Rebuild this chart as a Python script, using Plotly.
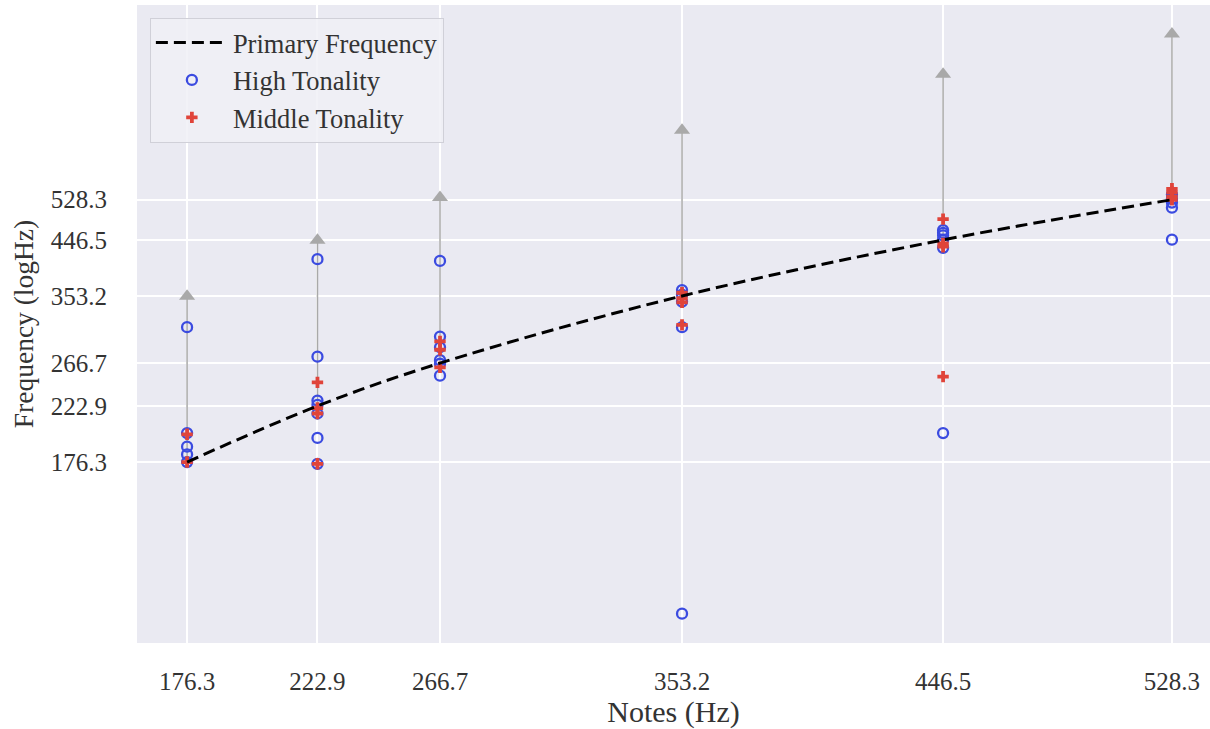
import plotly.graph_objects as go
import numpy as np

# ---------------- data ----------------
notes = [176.3, 222.9, 266.7, 353.2, 446.5, 528.3]
note_labels = ["176.3", "222.9", "266.7", "353.2", "446.5", "528.3"]

high_tonality = [
    [310, 199, 188, 182, 176.3],
    [412, 274, 228, 224, 216, 195, 175],
    [409, 298, 285, 270, 266, 253],
    [362, 355, 345, 310, 93.5],
    [465, 460, 455, 447, 432, 199],
    [540, 530, 522, 511, 447],
]
middle_tonality = [
    [198, 176.3],
    [246, 221, 216, 175],
    [292, 282, 262],
    [358, 350, 344, 313],
    [487, 440, 434, 252],
    [553, 545, 535, 528],
]
octave_factor = 2.0

# ---------------- styling ----------------
FONT = "Liberation Serif"
TXT = "#333333"
BLUE = "#3b4be0"
RED = "#e0443a"
GRAY = "#a9a9a9"
BG = "#EAEAF2"

fig = go.Figure()

# octave arrows (line + triangle head)
for f in notes:
    fig.add_trace(go.Scatter(
        x=[f, f], y=[f, f * octave_factor], mode="lines",
        line=dict(color=GRAY, width=1.5), showlegend=False, hoverinfo="skip"))
fig.add_trace(go.Scatter(
    x=notes, y=[f * octave_factor for f in notes], mode="markers",
    marker=dict(symbol="triangle-up", size=14, color=GRAY, line=dict(width=0)),
    showlegend=False, hoverinfo="skip"))

hx = [n for n, vals in zip(notes, high_tonality) for _ in vals]
hy = [v for vals in high_tonality for v in vals]
mx = [n for n, vals in zip(notes, middle_tonality) for _ in vals]
my = [v for vals in middle_tonality for v in vals]

fig.add_trace(go.Scatter(
    x=hx, y=hy, mode="markers", name="High Tonality", legendrank=2,
    marker=dict(symbol="circle-open", size=10, color=BLUE, line=dict(width=2.3, color=BLUE))))
fig.add_trace(go.Scatter(
    x=mx, y=my, mode="markers", name="Middle Tonality", legendrank=3,
    marker=dict(symbol="cross", size=9.5, color=RED, line=dict(width=0))))
fig.add_trace(go.Scatter(
    x=notes, y=notes, mode="lines", name="Primary Frequency", legendrank=1,
    line=dict(color="black", width=3, dash="12px,6px", shape="spline")))

fig.update_layout(
    width=1210, height=729,
    margin=dict(l=137, r=0, t=5, b=86),
    paper_bgcolor="white", plot_bgcolor=BG,
    font=dict(family=FONT, color=TXT, size=25),
    legend=dict(
        x=0.012, y=0.98, xanchor="left", yanchor="top",
        bgcolor="rgba(240,240,246,0.85)", bordercolor="#d0d0d8", borderwidth=1,
        font=dict(family=FONT, size=26.5, color=TXT), traceorder="normal",
        itemwidth=72),
    showlegend=True,
)
fig.update_xaxes(
    type="linear", range=[158.4, 541.9],
    tickvals=notes, ticktext=note_labels,
    showgrid=True, gridcolor="white", gridwidth=1.5, zeroline=False,
    ticks="", ticklabelstandoff=21, showline=False,
    title=dict(text="Notes (Hz)", font=dict(family=FONT, size=30, color=TXT), standoff=4),
)
fig.update_yaxes(
    type="log", range=[np.log10(82.7), np.log10(1193)],
    tickvals=notes, ticktext=note_labels,
    showgrid=True, gridcolor="white", gridwidth=1.5, zeroline=False,
    ticks="", ticklabelstandoff=29, showline=False,
    title=dict(text="Frequency (logHz)", font=dict(family=FONT, size=27.5, color=TXT), standoff=9),
)

fig.write_html("out.html")
